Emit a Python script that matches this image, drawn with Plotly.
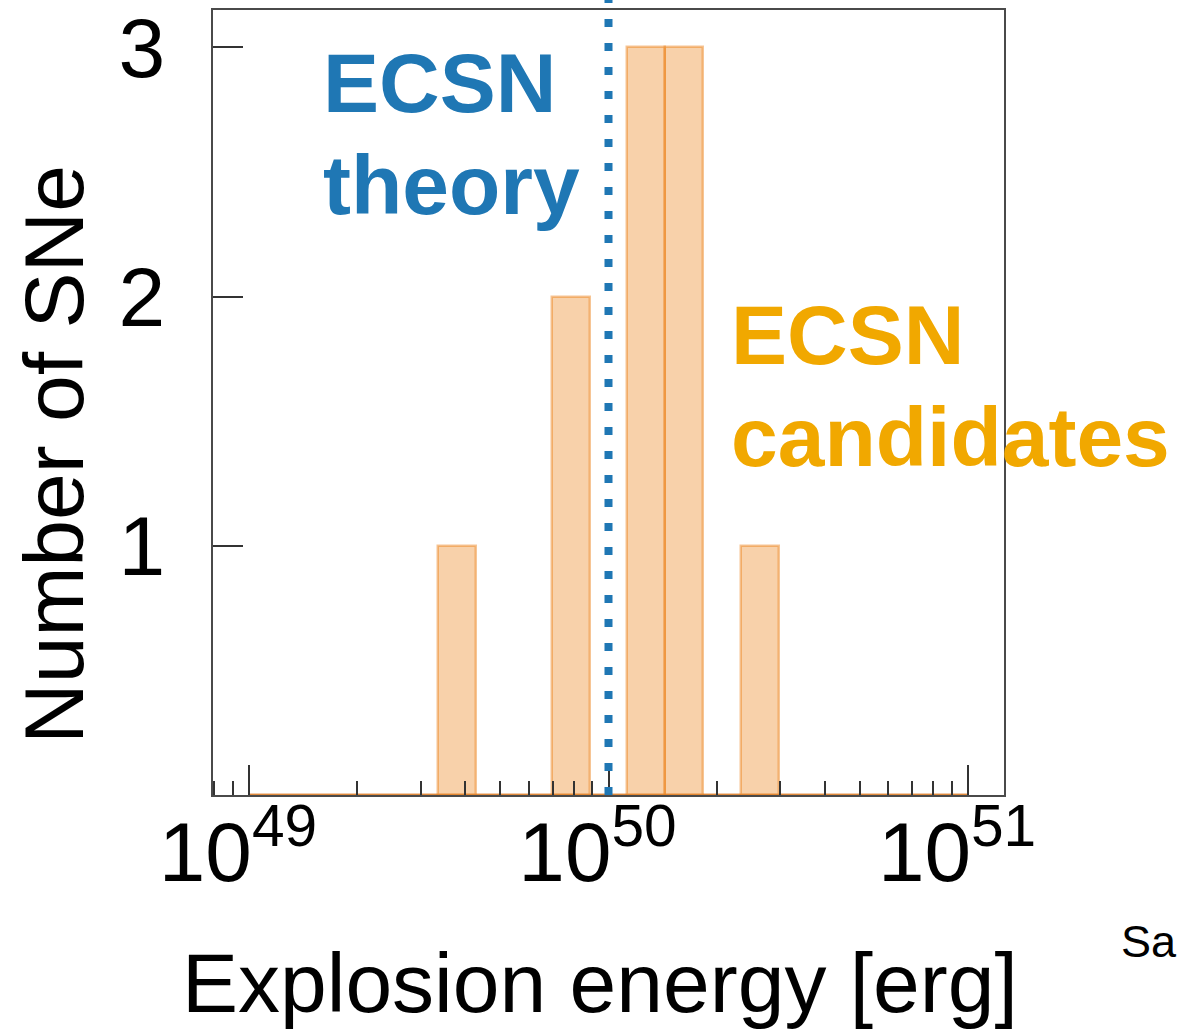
import numpy as np
import plotly.graph_objects as go

# Histogram of explosion energies (log10 bins from 1e49 to 1e51 erg)
log_e_min = 49.0
log_e_max = 51.0
n_bins = 19
bin_counts = [0, 0, 0, 0, 0, 1, 0, 0, 2, 0, 3, 3, 0, 1, 0, 0, 0, 0, 0]

# Theoretical ECSN explosion energy (log10 erg)
log_e_theory = 50.0

x_title = "Explosion energy [erg]"
y_title = "Number of SNe"
y_ticks = [1, 2, 3]

FONT = "Liberation Sans, Arial, Helvetica, sans-serif"
BLUE = "#1f77b4"
GOLD = "#f1a800"

W, H = 1178, 1030
L, R, T, B = 213, 1004, 10, 795  # plot area in pixels


def px_x(px):
    return (px - L) / (R - L)


def px_y(py):
    return 1 - (py - T) / (B - T)


edges = np.linspace(log_e_min, log_e_max, n_bins + 1)
centers = 0.5 * (edges[:-1] + edges[1:])
width = edges[1] - edges[0]
x_range = [48.9, 51.1]

fig = go.Figure()

# zero baseline of the histogram across the binned range (on the log axis)
fig.add_trace(go.Scatter(
    x=10 ** edges[[0, -1]], y=[0, 0], xaxis="x", yaxis="y",
    mode="lines", line=dict(color="rgba(200,110,40,0.75)", width=2.5),
    hoverinfo="skip", showlegend=False,
))

# histogram bars, laid out on a linear log10(E) axis that overlays the log axis
fig.add_trace(go.Bar(
    x=centers, y=bin_counts, width=width, xaxis="x2", yaxis="y",
    marker=dict(color="rgba(236,127,19,0.36)",
                line=dict(color="rgba(236,127,19,0.45)", width=2.5)),
    showlegend=False,
))

# dotted vertical line for the theoretical value
fig.add_shape(
    type="line", xref="x2", yref="paper",
    x0=log_e_theory, x1=log_e_theory, y0=0, y1=px_y(0),
    line=dict(color=BLUE, width=8, dash="8px,16px"),
    layer="above",
)

big = 84
annotations = [
    dict(text="<b>ECSN</b>", x=px_x(321), y=px_y(83.5), font=dict(color=BLUE, size=big)),
    dict(text="<b>theory</b>", x=px_x(321), y=px_y(185), font=dict(color=BLUE, size=big)),
    dict(text="<b>ECSN</b>", x=px_x(729), y=px_y(335), font=dict(color=GOLD, size=big)),
    dict(text="<b>candidates</b>", x=px_x(729), y=px_y(437), font=dict(color=GOLD, size=big)),
    dict(text="Sa", x=px_x(1119), y=px_y(941), font=dict(color="black", size=45)),
]
for a in annotations:
    fig.add_annotation(xref="paper", yref="paper", xanchor="left", yanchor="middle",
                       showarrow=False, **a)

# axis titles
fig.add_annotation(text=x_title, xref="paper", yref="paper", x=px_x(600), y=px_y(983),
                   xanchor="center", yanchor="middle", showarrow=False,
                   font=dict(size=big, color="black"))
fig.add_annotation(text=y_title, xref="paper", yref="paper", x=px_x(54), y=px_y(455),
                   xanchor="center", yanchor="middle", showarrow=False, textangle=-90,
                   font=dict(size=big, color="black"))

axis_line = dict(showline=True, linecolor="#4a4a4a", linewidth=2, mirror=True,
                 showgrid=False, zeroline=False, automargin=False)

fig.update_layout(
    width=W, height=H,
    margin=dict(l=L, r=W - R, t=T, b=H - B, autoexpand=False),
    paper_bgcolor="white", plot_bgcolor="white",
    font=dict(family=FONT, color="black"),
    bargap=0,
    xaxis=dict(
        type="log", range=x_range, dtick=1, exponentformat="power",
        ticks="inside", ticklen=30, tickwidth=1.5, tickcolor="#333",
        tickfont=dict(size=67), ticklabelstandoff=-13, ticklabelshift=-11,
        minor=dict(ticks="inside", ticklen=14, tickwidth=1.5, tickcolor="#333", dtick="D1"),
        **axis_line,
    ),
    xaxis2=dict(overlaying="x", range=x_range, visible=False, anchor="y"),
    yaxis=dict(
        range=[0, 3.15], tickvals=y_ticks,
        ticks="inside", ticklen=30, tickwidth=1.5, tickcolor="#333",
        tickfont=dict(size=big), ticklabelstandoff=29,
        **axis_line,
    ),
)

fig.write_html("out.html")
